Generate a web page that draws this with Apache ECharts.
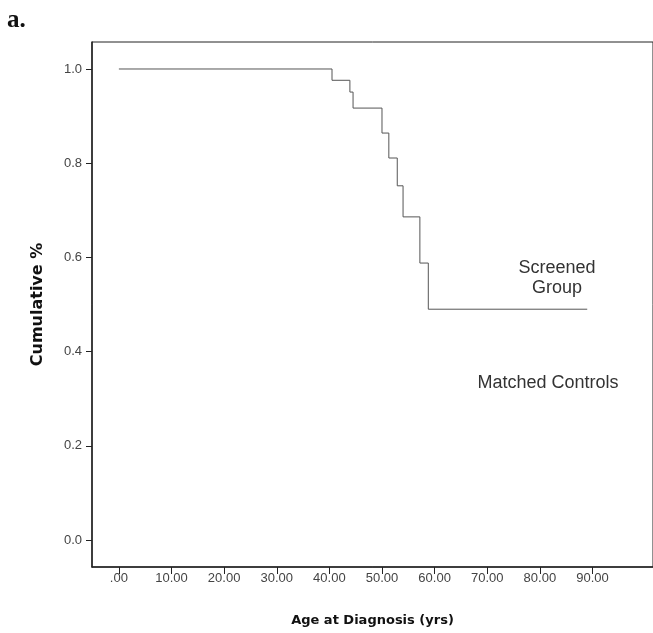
<!DOCTYPE html>
<html>
<head>
<meta charset="utf-8">
<script src="https://cdn.jsdelivr.net/npm/echarts@6/dist/echarts.min.js"></script>
<style>html,body{margin:0;padding:0;background:#fff;}#c{width:653px;height:633px;}</style>
</head>
<body>
<div id="c"></div>
<script>
// Step points of the cumulative curve (age in years, cumulative proportion)
const ages = [0, 40.5, 43.9, 44.5, 50.0, 51.3, 52.9, 54.0, 57.2, 58.8, 89.0];
const survival = [1.0, 0.976, 0.951, 0.917, 0.864, 0.811, 0.752, 0.686, 0.588, 0.490, 0.490];
const xTicks = [0, 10, 20, 30, 40, 50, 60, 70, 80, 90];
const xTickLabels = ['.00', '10.00', '20.00', '30.00', '40.00', '50.00', '60.00', '70.00', '80.00', '90.00'];
const yTicks = [0, 0.2, 0.4, 0.6, 0.8, 1.0];
const yTickLabels = ['0.0', '0.2', '0.4', '0.6', '0.8', '1.0'];
const xTitle = 'Age at Diagnosis (yrs)';
const yTitle = 'Cumulative %';
const panelLabel = 'a.';
const noteScreened = 'Screened\nGroup';
const noteControls = 'Matched Controls';

const chart = echarts.init(document.getElementById('c'));
const pts = ages.map((a, i) => [a, survival[i]]);
const xLabelMap = {}; xTicks.forEach((t, i) => xLabelMap[t] = xTickLabels[i]);
const yLabelMap = {}; yTicks.forEach((t, i) => yLabelMap[t.toFixed(1)] = yTickLabels[i]);

chart.setOption({
  animation: false,
  backgroundColor: '#fff',
  grid: { left: 92, top: 42, right: 0, bottom: 66, show: true, borderColor: '#222', borderWidth: 1, containLabel: false },
  xAxis: {
    type: 'value', min: -5.11, max: 101.5,
    axisLine: { show: true, onZero: false, lineStyle: { color: '#222', width: 1.5 } },
    axisTick: { show: true, length: 7, customValues: xTicks, lineStyle: { color: '#222' } },
    axisLabel: { customValues: xTicks, formatter: v => xLabelMap[Math.round(v)], color: '#444', fontFamily: 'Liberation Sans, Arial', fontSize: 13, margin: 5 },
    splitLine: { show: false },
    name: xTitle, nameLocation: 'middle', nameGap: 47,
    nameTextStyle: { fontFamily: 'DejaVu Sans', fontWeight: 'bold', fontSize: 13, color: '#111' }
  },
  yAxis: {
    type: 'value', min: -0.0573, max: 1.0573,
    axisLine: { show: true, onZero: false, lineStyle: { color: '#222', width: 1.5 } },
    axisTick: { show: true, length: 6, customValues: yTicks, lineStyle: { color: '#222' } },
    axisLabel: { customValues: yTicks, formatter: v => yLabelMap[v.toFixed(1)], color: '#444', fontFamily: 'Liberation Sans, Arial', fontSize: 13, margin: 10 },
    splitLine: { show: false },
    name: yTitle, nameLocation: 'middle', nameGap: 46, nameRotate: 90,
    nameTextStyle: { fontFamily: 'DejaVu Sans', fontWeight: 'bold', fontSize: 16, color: '#111' }
  },
  series: [{
    type: 'line', step: 'end', data: pts, symbol: 'none',
    lineStyle: { color: '#555', width: 1 }
  }],
  graphic: [
    { type: 'text', left: 7, top: 8, style: { text: panelLabel, font: 'bold 25px "Liberation Serif", "DejaVu Serif", serif', fill: '#111' } },
    { type: 'text', x: 557, y: 258, style: { text: noteScreened, align: 'center', font: '18px "Liberation Sans", Arial, sans-serif', fill: '#333', lineHeight: 20 } },
    { type: 'text', x: 548, y: 374, style: { text: noteControls, align: 'center', font: '18px "Liberation Sans", Arial, sans-serif', fill: '#333' } }
  ]
});
</script>
</body>
</html>
